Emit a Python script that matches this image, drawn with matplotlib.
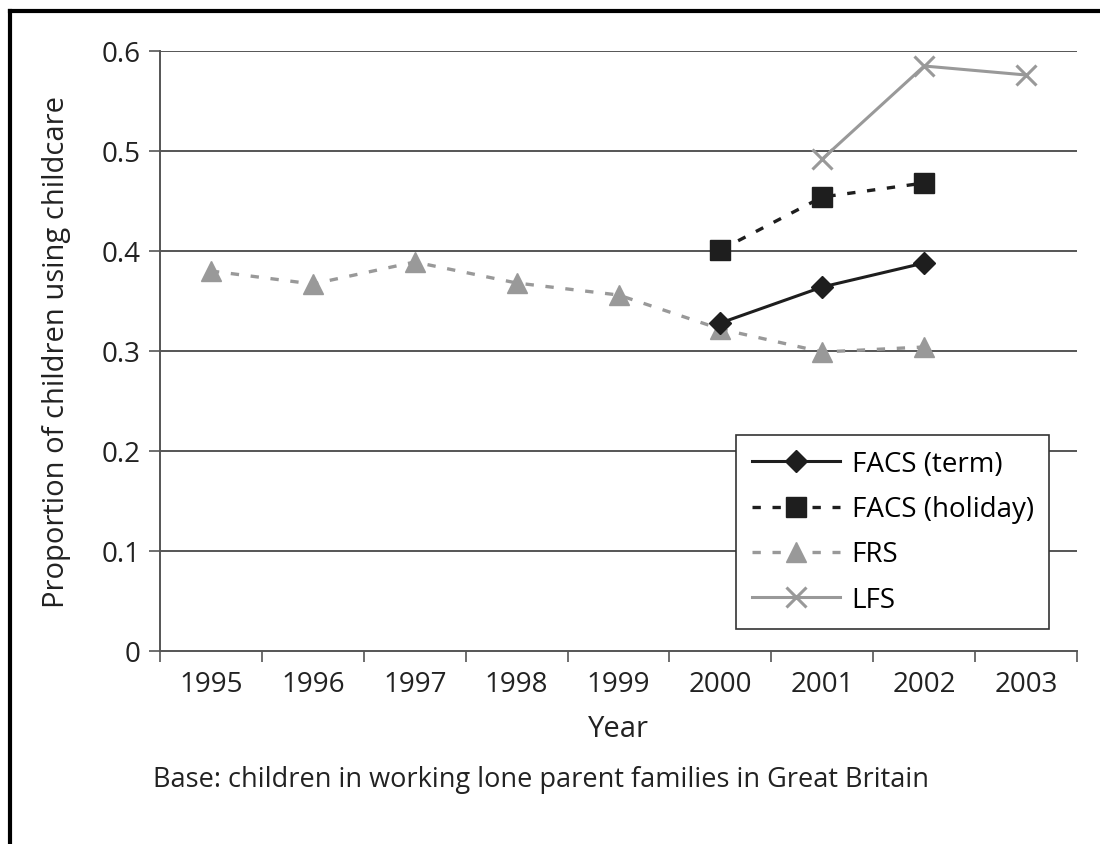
import matplotlib.pyplot as plt
from matplotlib.lines import Line2D

years = ["1995", "1996", "1997", "1998", "1999", "2000", "2001", "2002", "2003"]

# values (None = no data)
facs_term = [None, None, None, None, None, 0.328, 0.364, 0.388, None]
facs_holiday = [None, None, None, None, None, 0.401, 0.454, 0.468, None]
frs = [0.380, 0.367, 0.389, 0.368, 0.356, 0.322, 0.299, 0.304, None]
lfs = [None, None, None, None, None, None, 0.492, 0.585, 0.576]

plt.rcParams['font.family'] = ['Open Sans', 'DejaVu Sans']

fig = plt.figure(figsize=(11, 8.45), dpi=100)
ax = fig.add_axes([160/1100, 1 - 652/845, 917/1100, 600/845])


def pts(vals):
    xs = [i for i, v in enumerate(vals) if v is not None]
    ys = [v for v in vals if v is not None]
    return xs, ys


x, y = pts(facs_term)
ax.plot(x, y, color="#1e1e1e", lw=2.2, marker="D", ms=11, label="FACS (term)", zorder=4)
x, y = pts(facs_holiday)
ax.plot(x, y, color="#1e1e1e", lw=2.4, ls=(0, (2.5, 3.5)), marker="s", ms=14,
        label="FACS (holiday)", zorder=4)
x, y = pts(frs)
ax.plot(x, y, color="#999999", lw=2.4, ls=(0, (2.5, 3.5)), marker="^", ms=15,
        label="FRS", zorder=3)
x, y = pts(lfs)
ax.plot(x, y, color="#999999", lw=2.2, marker="x", ms=15, mew=2.2, label="LFS", zorder=3)

ax.set_xlim(-0.5, len(years) - 0.5)
ax.set_ylim(0, 0.6)
ax.set_yticks([0, 0.1, 0.2, 0.3, 0.4, 0.5, 0.6])
ax.set_yticklabels(["0", "0.1", "0.2", "0.3", "0.4", "0.5", "0.6"])
ax.set_xticks(range(len(years)))
ax.set_xticklabels(years)
ax.set_xticks([i - 0.5 for i in range(len(years) + 1)], minor=True)
ax.tick_params(axis="x", which="major", length=0, labelsize=20, pad=14, colors="#222222")
ax.tick_params(axis="x", which="minor", length=8, width=1.2, color="#555555")
ax.tick_params(axis="y", length=8, width=1.2, color="#555555", labelsize=20, pad=6,
               labelcolor="#222222")

for v in [0.1, 0.2, 0.3, 0.4, 0.5, 0.6]:
    ax.axhline(v, color="#555555", lw=1.4, zorder=1)

for s in ["top", "right"]:
    ax.spines[s].set_visible(False)
ax.spines["left"].set_color("#555555")
ax.spines["bottom"].set_color("#555555")
ax.spines["left"].set_linewidth(1.4)
ax.spines["bottom"].set_linewidth(1.4)

ax.set_xlabel("Year", fontsize=21, labelpad=11, color="#222222")
ax.set_ylabel("Proportion of children using childcare", fontsize=21, labelpad=22,
              color="#222222")

leg = ax.legend(loc="lower right", bbox_to_anchor=(1049/1100, 1 - 630/845),
                bbox_transform=fig.transFigure, fontsize=20, frameon=True,
                fancybox=False, edgecolor="#333333", framealpha=1,
                handlelength=3.2, borderpad=0.55, labelspacing=0.62, handletextpad=0.4,
                borderaxespad=0)
leg.get_frame().set_linewidth(1.2)

fig.text(153/1100, 1 - 780/845, "Base: children in working lone parent families in Great Britain",
         fontsize=19.5, color="#222222", va="center")

# page border (top and left)
fig.add_artist(Line2D([10/1100, 10/1100], [0, 1 - 12/845], color="black", lw=3,
                      transform=fig.transFigure))
fig.add_artist(Line2D([10/1100, 1], [1 - 12/845, 1 - 12/845], color="black", lw=3,
                      transform=fig.transFigure))

fig.savefig("out.png", dpi=100)
